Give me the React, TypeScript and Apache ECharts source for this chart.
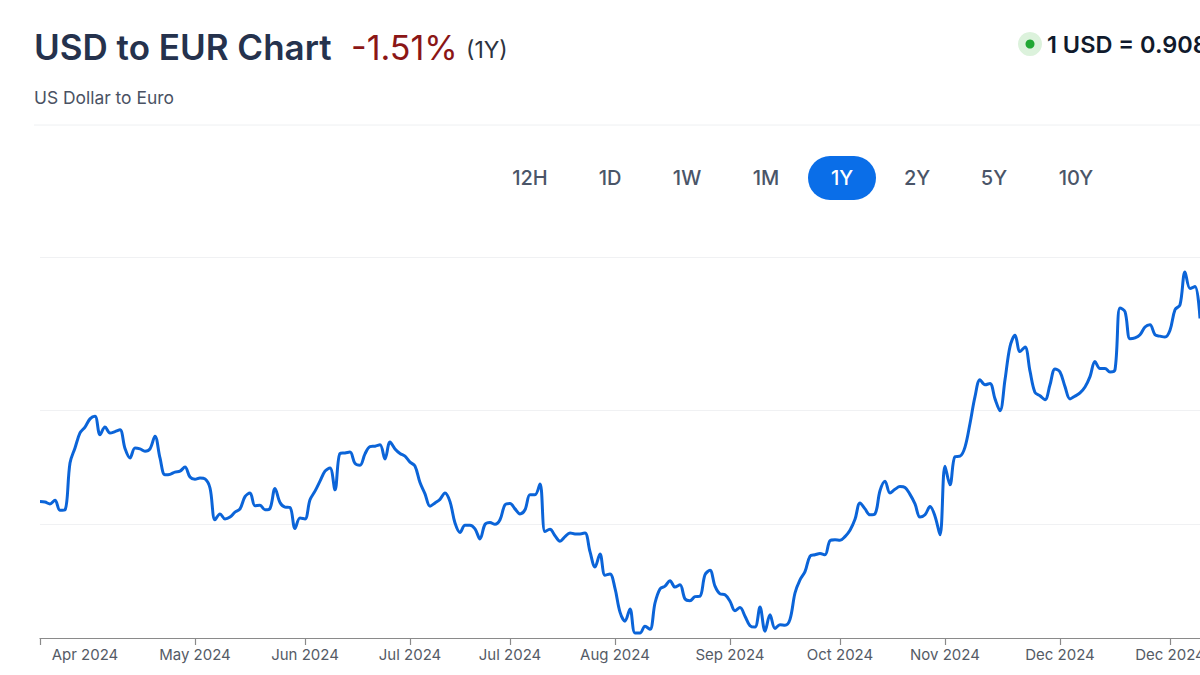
import React, { useEffect, useRef } from "react";
import * as echarts from "echarts";

// USD -> EUR rate, one point per sample along the 1Y range
const rates: number[] = [
  0.9200, 0.9199, 0.9195, 0.9203, 0.9181, 0.9182, 0.9285, 0.9318, 0.9351, 0.9364,
  0.9382, 0.9388, 0.9347, 0.9364, 0.9351, 0.9354, 0.9358, 0.9317, 0.9296, 0.9318,
  0.9316, 0.9311, 0.9316, 0.9344, 0.9296, 0.9259, 0.9260, 0.9265, 0.9267, 0.9276,
  0.9254, 0.9249, 0.9252, 0.9250, 0.9230, 0.9160, 0.9173, 0.9162, 0.9166, 0.9177,
  0.9184, 0.9211, 0.9219, 0.9191, 0.9192, 0.9182, 0.9185, 0.9229, 0.9198, 0.9188,
  0.9187, 0.9141, 0.9164, 0.9162, 0.9204, 0.9223, 0.9245, 0.9267, 0.9274, 0.9226,
  0.9306, 0.9307, 0.9309, 0.9284, 0.9280, 0.9305, 0.9321, 0.9322, 0.9325, 0.9294,
  0.9331, 0.9316, 0.9306, 0.9300, 0.9287, 0.9278, 0.9242, 0.9217, 0.9190, 0.9197,
  0.9205, 0.9219, 0.9200, 0.9153, 0.9132, 0.9148, 0.9148, 0.9140, 0.9118, 0.9150,
  0.9154, 0.9150, 0.9160, 0.9193, 0.9196, 0.9184, 0.9173, 0.9182, 0.9215, 0.9215,
  0.9239, 0.9134, 0.9139, 0.9125, 0.9113, 0.9123, 0.9131, 0.9129, 0.9129, 0.9131,
  0.9090, 0.9056, 0.9085, 0.9038, 0.9041, 0.9009, 0.8957, 0.8937, 0.8964, 0.8911,
  0.8911, 0.8926, 0.8919, 0.8977, 0.9008, 0.9014, 0.9026, 0.9012, 0.9017, 0.8986,
  0.8982, 0.8991, 0.8992, 0.9039, 0.9049, 0.9014, 0.8997, 0.8995, 0.8981, 0.8960,
  0.8967, 0.8948, 0.8927, 0.8924, 0.8968, 0.8915, 0.8951, 0.8921, 0.8929, 0.8928,
  0.8941, 0.8999, 0.9028, 0.9046, 0.9080, 0.9083, 0.9086, 0.9083, 0.9114, 0.9116,
  0.9115, 0.9123, 0.9137, 0.9161, 0.9197, 0.9184, 0.9171, 0.9173, 0.9224, 0.9245,
  0.9219, 0.9227, 0.9233, 0.9231, 0.9216, 0.9195, 0.9166, 0.9171, 0.9189, 0.9168,
  0.9127, 0.9278, 0.9237, 0.9299, 0.9300, 0.9320, 0.9372, 0.9431, 0.9468, 0.9457,
  0.9460, 0.9426, 0.9400, 0.9468, 0.9541, 0.9566, 0.9530, 0.9540, 0.9487, 0.9440,
  0.9433, 0.9424, 0.9457, 0.9492, 0.9485, 0.9453, 0.9426, 0.9432, 0.9439, 0.9452,
  0.9475, 0.9508, 0.9493, 0.9493, 0.9485, 0.9490, 0.9626, 0.9618, 0.9558, 0.9560,
  0.9567, 0.9584, 0.9589, 0.9567, 0.9564, 0.9562, 0.9577, 0.9622, 0.9633, 0.9705,
  0.9669, 0.9673, 0.9603,
];

// x-axis tick labels and the sample index each one sits on
const tickLabels: string[] = [
  "Apr 2024", "May 2024", "Jun 2024", "Jul 2024", "Jul 2024", "Aug 2024",
  "Sep 2024", "Oct 2024", "Nov 2024", "Dec 2024", "Dec 2024",
];
const labelIndex: number[] = [9, 31, 53, 74, 94, 115, 138, 160, 181, 204, 226];
const tickIndex: number[] = [0, 31, 53, 74, 94, 115, 138, 160, 181, 204, 226];

// horizontal grid lines (rate values)
const gridValues: number[] = [0.915, 0.94, 0.9737];
const yMin = 0.89;
const yMax = 0.9737;

const ranges: string[] = ["12H", "1D", "1W", "1M", "1Y", "2Y", "5Y", "10Y"];
const rangeCenters: number[] = [530, 610, 687, 766, 842, 917, 994, 1076];
const selectedRange = "1Y";

const FONT = "Inter, 'Noto Sans', sans-serif";

export default function App() {
  const ref = useRef<HTMLDivElement>(null);

  useEffect(() => {
    if (!ref.current) return;
    const chart = echarts.init(ref.current, undefined, { renderer: "svg" });
    const categories = rates.map((_, i) => String(i));

    const buttonGraphics: any[] = [];
    ranges.forEach((r, i) => {
      const sel = r === selectedRange;
      if (sel) {
        buttonGraphics.push({
          type: "rect",
          shape: { x: rangeCenters[i] - 34, y: 156, width: 68, height: 44, r: 22 },
          style: { fill: "#0a6ee8" },
        });
      }
      buttonGraphics.push({
        type: "text",
        x: rangeCenters[i],
        y: 178,
        style: {
          text: r,
          fill: sel ? "#ffffff" : "#4a5568",
          fontSize: 20,
          fontWeight: 500,
          fontFamily: FONT,
          align: "center",
          verticalAlign: "middle",
        },
      });
    });

    chart.setOption({
      animation: false,
      backgroundColor: "#ffffff",
      grid: {
        left: 40,
        right: 0,
        top: 257.5,
        bottom: 37,
        containLabel: false,
        outerBoundsMode: "none",
      },
      xAxis: {
        type: "category",
        data: categories,
        boundaryGap: false,
        axisLine: { show: true, lineStyle: { color: "#8a8a8a", width: 1.2 } },
        axisTick: {
          show: true,
          length: 7,
          interval: (index: number) => tickIndex.includes(index),
          lineStyle: { color: "#8a8a8a", width: 1.2 },
        },
        axisLabel: {
          show: true,
          interval: (index: number) => labelIndex.includes(index),
          formatter: (_v: string, index: number) => {
            const k = labelIndex.indexOf(index);
            return k >= 0 ? tickLabels[k] : "";
          },
          color: "#555b66",
          fontSize: 15,
          fontFamily: FONT,
          margin: 9,
        },
        splitLine: { show: false },
      },
      yAxis: {
        type: "value",
        min: yMin,
        max: yMax,
        axisLine: { show: false },
        axisTick: { show: false },
        axisLabel: { show: false },
        splitLine: { show: false },
      },
      series: [
        {
          type: "line",
          data: rates,
          smooth: 0.35,
          symbol: "none",
          lineStyle: { color: "#0b64d8", width: 3 },
          z: 3,
          markLine: {
            silent: true,
            symbol: "none",
            precision: 4,
            label: { show: false },
            lineStyle: { color: "#f0f1f3", width: 1, type: "solid" },
            z: 1,
            data: gridValues.map((v) => ({ yAxis: v })),
          },
        },
      ],
      graphic: [
        {
          type: "text",
          x: 34,
          y: 47,
          style: {
            text: "USD to EUR Chart",
            fill: "#25324d",
            fontSize: 35,
            fontWeight: 600,
            fontFamily: FONT,
            verticalAlign: "middle",
          },
        },
        {
          type: "text",
          x: 351,
          y: 47,
          style: {
            text: "-1.51%",
            fill: "#8b1616",
            fontSize: 34,
            fontWeight: 400,
            fontFamily: FONT,
            verticalAlign: "middle",
          },
        },
        {
          type: "text",
          x: 466,
          y: 50,
          style: {
            text: "(1Y)",
            fill: "#2d3340",
            fontSize: 23,
            fontWeight: 400,
            fontFamily: FONT,
            verticalAlign: "middle",
          },
        },
        {
          type: "text",
          x: 34,
          y: 97,
          style: {
            text: "US Dollar to Euro",
            fill: "#4a5263",
            fontSize: 17.4,
            fontWeight: 400,
            fontFamily: FONT,
            verticalAlign: "middle",
          },
        },
        {
          type: "line",
          shape: { x1: 34, y1: 125, x2: 1200, y2: 125 },
          style: { stroke: "#eef0f2", lineWidth: 1 },
        },
        {
          type: "circle",
          shape: { cx: 1030, cy: 44, r: 12 },
          style: { fill: "#dcf2dc" },
        },
        {
          type: "circle",
          shape: { cx: 1030, cy: 44, r: 4.5 },
          style: { fill: "#21a834" },
        },
        {
          type: "text",
          x: 1047,
          y: 44,
          style: {
            text: "1 USD = 0.908",
            fill: "#101a2c",
            fontSize: 23.5,
            fontWeight: 600,
            fontFamily: FONT,
            verticalAlign: "middle",
          },
        },
        ...buttonGraphics,
      ],
    });

    return () => chart.dispose();
  }, []);

  return (
    <div
      ref={ref}
      style={{ position: "fixed", left: 0, top: 0, width: 1200, height: 675, background: "#fff" }}
    />
  );
}
